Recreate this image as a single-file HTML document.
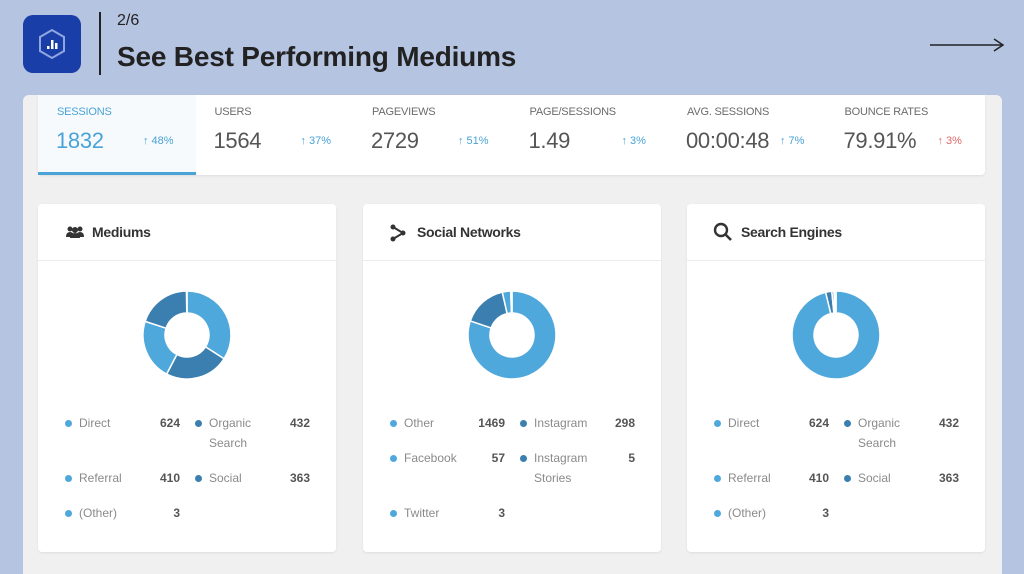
<!DOCTYPE html>
<html><head><meta charset="utf-8"><style>
*{margin:0;padding:0;box-sizing:border-box}
html,body{width:1024px;height:574px;overflow:hidden}
body{background:#b5c4e1;font-family:"Liberation Sans",sans-serif;position:relative}
.abs{position:absolute}
.panel{left:23px;top:95px;width:979px;height:479px;background:#f0f0f0;border-radius:6px 6px 0 0}
.stats{left:38px;top:95px;width:947px;height:80px;background:#fff;border-radius:0 0 4px 4px;box-shadow:0 1px 2px rgba(0,0,0,.08)}
.st{position:absolute;top:0;height:80px}
.st .lb{position:absolute;top:11px;font-size:11px;color:#6b6b6b;white-space:nowrap;letter-spacing:-0.2px}
.st .vl{position:absolute;top:33px;font-size:22px;color:#555;white-space:nowrap;letter-spacing:-0.3px}
.st .pc{position:absolute;top:40px;font-size:11px;color:#4aa3d6;white-space:nowrap}
.card{top:204px;width:298px;height:348px;background:#fff;border-radius:4px;box-shadow:0 1px 2px rgba(0,0,0,.08)}
.card .hd{position:absolute;left:0;top:0;width:100%;height:57px;border-bottom:1px solid #ececec}
.card .ttl{position:absolute;left:54px;top:20px;font-size:14px;font-weight:bold;color:#333;letter-spacing:-0.3px}
.lg{position:absolute;font-size:12px;color:#8a8a8a;line-height:20px}
.lv{position:absolute;font-size:12px;font-weight:bold;color:#555;text-align:right;width:50px}
.dot{position:absolute;width:7px;height:7px;border-radius:50%}
</style></head><body>
<div class="abs" style="left:23px;top:15px;width:58px;height:58px;background:#1a3ea8;border-radius:10px">
<svg width="58" height="58"><polygon points="29,15 41,22 41,36 29,43 17,36 17,22" fill="none" stroke="#8fa6e0" stroke-width="2"/><rect x="24" y="31" width="2.5" height="3" fill="#fff"/><rect x="28" y="25" width="2.5" height="9" fill="#fff"/><rect x="32" y="28" width="2.5" height="6" fill="#fff"/></svg></div>
<div class="abs" style="left:99px;top:12px;width:2px;height:63px;background:#222"></div>
<div class="abs" style="left:117px;top:12px;font-size:16px;color:#222">2/6</div>
<div class="abs" style="left:117px;top:41px;font-size:28px;font-weight:bold;color:#222;letter-spacing:-0.2px">See Best Performing Mediums</div>
<svg class="abs" style="left:928px;top:37px" width="78" height="16"><line x1="2" y1="8" x2="74" y2="8" stroke="#222" stroke-width="1.5"/><polyline points="66,2 75,8 66,14" fill="none" stroke="#222" stroke-width="1.5"/></svg>
<div class="abs panel"></div>
<div class="abs stats" id="stats"></div>
<div class="abs card" style="left:38px" id="c0"><div class="hd"><svg class="abs" style="left:27px;top:21px" width="20" height="14"><circle cx="5" cy="4" r="2.5" fill="#333"/><circle cx="15" cy="4" r="2.5" fill="#333"/><circle cx="10" cy="5" r="3" fill="#333"/><path d="M1,12 Q1,7 5,7 Q9,7 9,12Z M11,12 Q11,7 15,7 Q19,7 19,12Z M5,13 Q5,8 10,8 Q15,8 15,13Z" fill="#333"/></svg><div class="ttl">Mediums</div></div></div>
<div class="abs card" style="left:363px" id="c1"><div class="hd"><svg class="abs" style="left:26px;top:19px" width="18" height="20"><circle cx="4" cy="4" r="2.5" fill="#333"/><circle cx="14" cy="10" r="2.5" fill="#333"/><circle cx="4" cy="16" r="2.5" fill="#333"/><polyline points="4,4 14,10 4,16" fill="none" stroke="#333" stroke-width="2"/></svg><div class="ttl">Social Networks</div></div></div>
<div class="abs card" style="left:687px" id="c2"><div class="hd"><svg class="abs" style="left:26px;top:18px" width="20" height="20"><circle cx="8" cy="8" r="6" fill="none" stroke="#333" stroke-width="2.4"/><line x1="12.5" y1="12.5" x2="18" y2="18" stroke="#333" stroke-width="2.6"/></svg><div class="ttl">Search Engines</div></div></div>
<script>
const statLabels=["SESSIONS","USERS","PAGEVIEWS","PAGE/SESSIONS","AVG. SESSIONS","BOUNCE RATES"];
const statValues=["1832","1564","2729","1.49","00:00:48","79.91%"];
const statChanges=["48%","37%","51%","3%","7%","3%"];
const statUp=[true,true,true,true,true,false];
const mediumCats=["Direct","Organic Search","Referral","Social","(Other)"];
const mediumVals=[624,432,410,363,3];
const socialCats=["Other","Instagram","Facebook","Instagram Stories","Twitter"];
const socialVals=[1469,298,57,5,3];
const searchCats=["Direct","Organic Search","Referral","Social","(Other)"];
const searchVals=[624,432,410,363,3];
const searchDonutVals=[1700,40,14,8,5];
const LIGHT="#4fa8dc",DARK="#3a7fb0";
const st=document.getElementById('stats');
const pcOff=[105,105,105,111,112,112];
statLabels.forEach((l,i)=>{
 const d=document.createElement('div');d.className='st';
 
 
 const x=i*157.5;d.style.left=x+'px';d.style.width='158px';
 if(i===0){d.style.background='#f7fafd';d.style.borderBottom='3px solid #4aa3d6';}
 const c=i===0?'#4aa3d6':'#555';
 d.innerHTML=`<div class="lb" style="left:19px;${i===0?'color:#4aa3d6':''}">${l}</div><div class="vl" style="left:18px;color:${c}">${statValues[i]}</div><div class="pc" style="left:${pcOff[i]}px;color:${statUp[i]?'#4aa3d6':'#e06666'}">&#8593; ${statChanges[i]}</div>`;
 st.appendChild(d);
});
function donut(card,vals,name){
 const cx=149,cy=131,R=44,r=22,tot=vals.reduce((a,b)=>a+b,0);
 const ns="http://www.w3.org/2000/svg";
 const s=document.createElementNS(ns,'svg');s.setAttribute('width',298);s.setAttribute('height',260);
 s.style.position='absolute';s.style.left='0';s.style.top='0';
 
 
 let a=-Math.PI/2;
 vals.forEach((v,i)=>{
  const b=a+v/tot*2*Math.PI;const lg=(b-a)>Math.PI?1:0;
  const p=(ang,rr)=>[cx+rr*Math.cos(ang),cy+rr*Math.sin(ang)];
  const [x1,y1]=p(a,R),[x2,y2]=p(b,R),[x3,y3]=p(b,r),[x4,y4]=p(a,r);
  const path=document.createElementNS(ns,'path');
  path.setAttribute('d',`M${x1},${y1}A${R},${R} 0 ${lg} 1 ${x2},${y2}L${x3},${y3}A${r},${r} 0 ${lg} 0 ${x4},${y4}Z`);
  path.setAttribute('fill',i%2?DARK:LIGHT);path.setAttribute('stroke','#fff');path.setAttribute('stroke-width','1.5');
  
  
  s.appendChild(path);a=b;
 });
 card.appendChild(s);
}
function legend(card,cats,vals,name){
 const rows=[];let y=209;
 for(let i=0;i<cats.length;i+=2){
  const tall=[cats[i],cats[i+1]||''].some(c=>c.length>10);
  rows.push(y);y+=tall?55:35;
 }
 cats.forEach((c,i)=>{
  const col=i%2,ry=rows[Math.floor(i/2)];const bx=col?157:27;
  const e=document.createElement('div');e.style.position='absolute';e.style.left='0';e.style.top='0';
  
  
  const lab=c.length>10?c.replace(' ','<br>'):c;
  e.innerHTML=`<div class="dot" style="left:${bx}px;top:${ry+7}px;background:${col?DARK:LIGHT}"></div><div class="lg" style="left:${bx+14}px;top:${ry}px">${lab}</div><div class="lv" style="left:${bx+65}px;top:${ry+3}px">${vals[i]}</div>`;
  card.appendChild(e);
 });
}
const c0=document.getElementById('c0'),c1=document.getElementById('c1'),c2=document.getElementById('c2');
donut(c0,mediumVals,'mediums');legend(c0,mediumCats,mediumVals,'mediums');
donut(c1,socialVals,'social');legend(c1,socialCats,socialVals,'social');
donut(c2,searchDonutVals,'search');legend(c2,searchCats,searchVals,'search');
</script>
</body></html>
